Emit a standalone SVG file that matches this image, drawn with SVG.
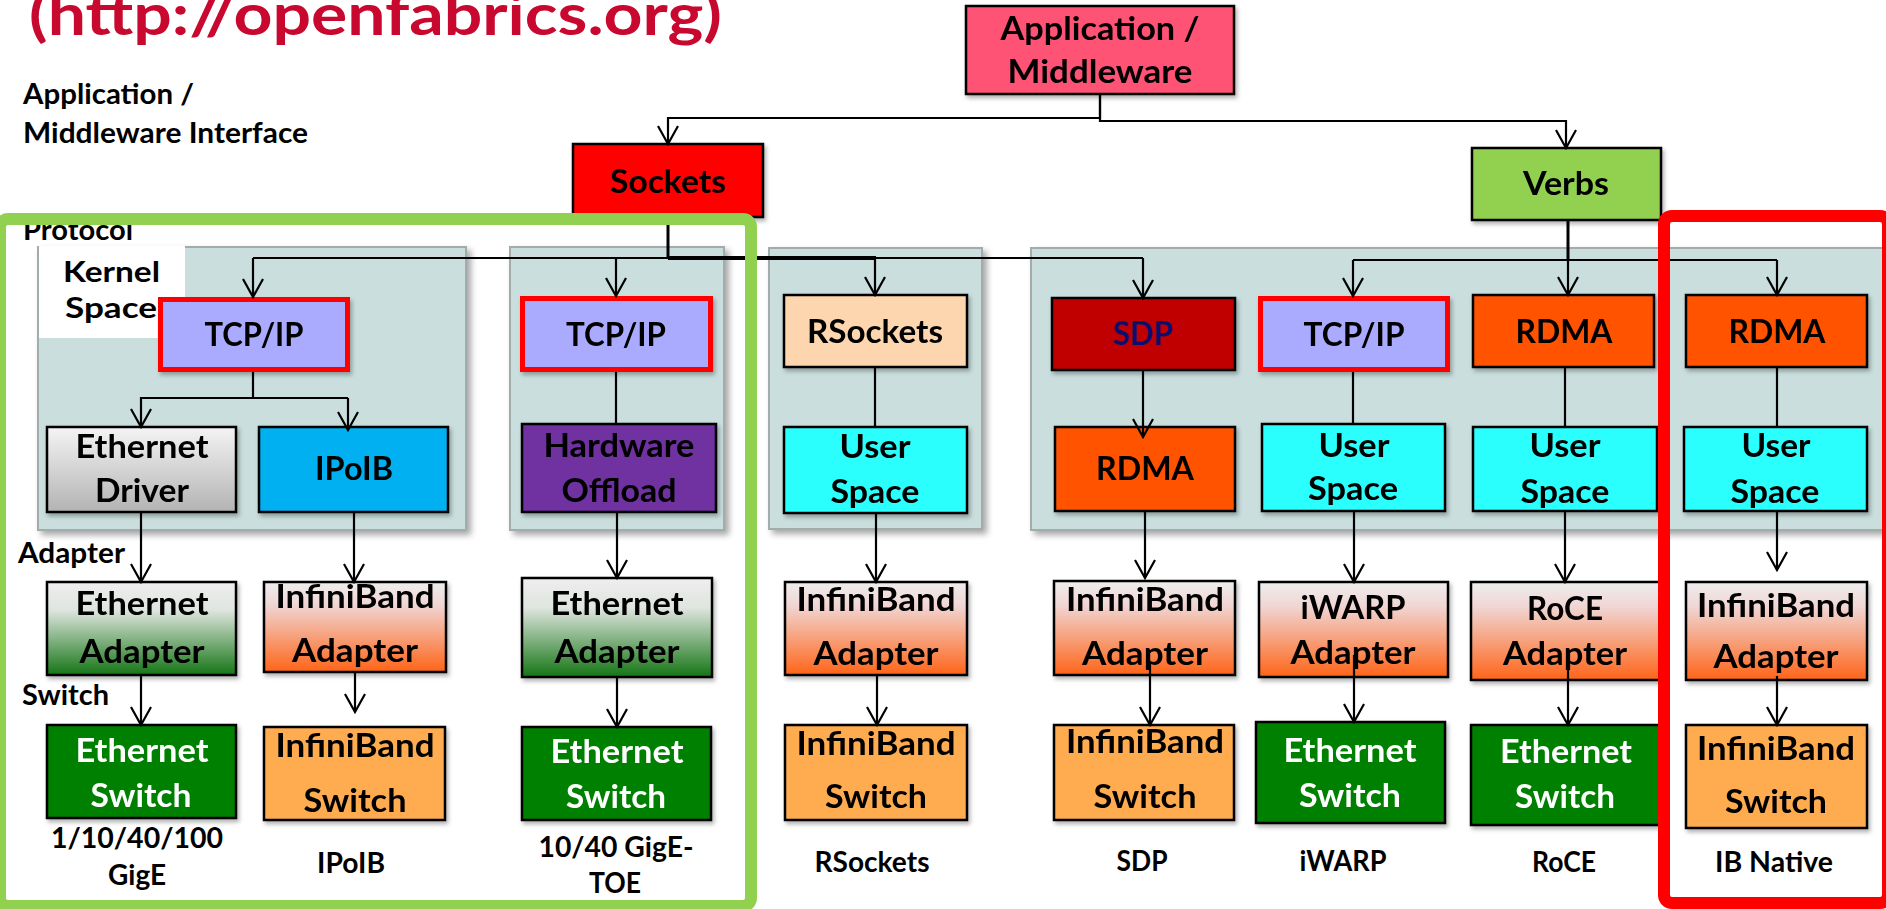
<svg xmlns="http://www.w3.org/2000/svg" width="1886" height="909" viewBox="0 0 1886 909">
  <defs>
    <style>
      .t { font-family: Lato, "Liberation Sans", sans-serif; font-weight: 700; font-size: 32px; text-anchor: middle; fill: #000; }
      .lbl { font-family: Lato, "Liberation Sans", sans-serif; font-weight: 700; font-size: 28px; fill: #000; }
      .mid { text-anchor: middle; }
      .w { fill: #fff; }
      .box { stroke: #000; stroke-width: 2.5; }
      .ip { fill: #aaaaff; stroke: #ff0000; stroke-width: 5; }
      .panel { fill: #c9dedd; stroke: #a3abab; stroke-width: 2; }
      .conn path { fill: none; stroke: #000; stroke-width: 2.2; }
      .conn .arr { marker-end: url(#arrow); }
    </style>
    <marker id="arrow" viewBox="-20 -12 22 24" refX="0" refY="0" markerWidth="22" markerHeight="24" markerUnits="userSpaceOnUse" orient="auto">
      <path d="M -18 -10 L 0 0 L -18 10" fill="none" stroke="#000" stroke-width="2.2"/>
    </marker>
    <filter id="shadow" x="-10%" y="-10%" width="130%" height="130%">
      <feDropShadow dx="2" dy="3" stdDeviation="2" flood-color="#000" flood-opacity="0.3"/>
    </filter>
    <filter id="pshadow" x="-10%" y="-10%" width="130%" height="130%">
      <feDropShadow dx="4" dy="4" stdDeviation="3" flood-color="#000" flood-opacity="0.35"/>
    </filter>
    <linearGradient id="gDriver" x1="0" y1="0" x2="0" y2="1">
      <stop offset="0" stop-color="#f4f4f4"/>
      <stop offset="1" stop-color="#b3b3b3"/>
    </linearGradient>
    <linearGradient id="gEth" x1="0" y1="0" x2="0" y2="1">
      <stop offset="0" stop-color="#eeeeee"/>
      <stop offset="0.3" stop-color="#dfe5df"/>
      <stop offset="1" stop-color="#157515"/>
    </linearGradient>
    <linearGradient id="gIB" x1="0" y1="0" x2="0" y2="1">
      <stop offset="0" stop-color="#eeeeee"/>
      <stop offset="0.25" stop-color="#f0d6d4"/>
      <stop offset="1" stop-color="#ff6418"/>
    </linearGradient>
  </defs>

  <rect width="1886" height="909" fill="#fff"/>

  <!-- heading, running off the top edge -->
  <text x="29" y="35" font-family="Lato, 'Liberation Sans', sans-serif" font-weight="700" font-size="57" fill="#c8082e" textLength="693" lengthAdjust="spacingAndGlyphs">(http://openfabrics.org)</text>

  <!-- layer panels -->
  <g id="panels" filter="url(#pshadow)">
    <rect class="panel" x="38" y="247" width="428" height="283"/>
    <rect class="panel" x="510" y="247" width="214" height="283"/>
    <rect class="panel" x="769" y="248" width="213" height="281"/>
    <rect class="panel" x="1031" y="248" width="870" height="282"/>
  </g>
  <rect x="39" y="246" width="146" height="92" fill="#fff"/>
  <line x1="38" y1="247" x2="38" y2="338" stroke="#a3abab" stroke-width="2"/>

  <!-- side labels -->
  <g id="layer-labels">
    <text class="lbl" x="23" y="104" textLength="171" lengthAdjust="spacingAndGlyphs">Application /</text>
    <text class="lbl" x="23" y="143" textLength="285" lengthAdjust="spacingAndGlyphs">Middleware Interface</text>
    <text class="lbl" x="23" y="240" textLength="110" lengthAdjust="spacingAndGlyphs">Protocol</text>
    <text class="lbl" x="63" y="282" font-size="31" textLength="97" lengthAdjust="spacingAndGlyphs">Kernel</text>
    <text class="lbl" x="65" y="318" font-size="31" textLength="92" lengthAdjust="spacingAndGlyphs">Space</text>
    <text class="lbl" x="18" y="563" textLength="107" lengthAdjust="spacingAndGlyphs">Adapter</text>
    <text class="lbl" x="22" y="705" textLength="87" lengthAdjust="spacingAndGlyphs">Switch</text>
  </g>

  <!-- top level -->
  <g id="app" filter="url(#shadow)">
    <rect class="box" x="966" y="6" width="268" height="88" fill="#ff5274"/>
    <text class="t" x="1100" y="40" textLength="199" lengthAdjust="spacingAndGlyphs">Application /</text>
    <text class="t" x="1100" y="83" textLength="185" lengthAdjust="spacingAndGlyphs">Middleware</text>
  </g>
  <g id="sockets" filter="url(#shadow)">
    <rect class="box" x="573" y="144" width="190" height="73" fill="#ff0000"/>
    <text class="t" x="668" y="193" textLength="116" lengthAdjust="spacingAndGlyphs">Sockets</text>
  </g>
  <g id="verbs" filter="url(#shadow)">
    <rect class="box" x="1472" y="148" width="189" height="72" fill="#92d050"/>
    <text class="t" x="1566" y="195" textLength="86" lengthAdjust="spacingAndGlyphs">Verbs</text>
  </g>

  <!-- protocol row -->
  <g id="tcpip-1" filter="url(#shadow)">
    <rect class="ip" x="160.5" y="299.5" width="187" height="70"/>
    <text class="t" x="254" y="346" textLength="99" lengthAdjust="spacingAndGlyphs">TCP/IP</text>
  </g>
  <g id="tcpip-2" filter="url(#shadow)">
    <rect class="ip" x="522.5" y="298.5" width="188" height="71"/>
    <text class="t" x="616" y="346" textLength="100" lengthAdjust="spacingAndGlyphs">TCP/IP</text>
  </g>
  <g id="rsockets" filter="url(#shadow)">
    <rect class="box" x="784" y="295" width="183" height="72" fill="#fdd5ae"/>
    <text class="t" x="875" y="343" textLength="136" lengthAdjust="spacingAndGlyphs">RSockets</text>
  </g>
  <g id="sdp" filter="url(#shadow)">
    <rect class="box" x="1052" y="298" width="183" height="72" fill="#c00000"/>
    <text class="t" x="1143" y="345" style="fill:#10106e" textLength="60" lengthAdjust="spacingAndGlyphs">SDP</text>
  </g>
  <g id="tcpip-3" filter="url(#shadow)">
    <rect class="ip" x="1260.5" y="298.5" width="187" height="71"/>
    <text class="t" x="1354" y="346" textLength="101" lengthAdjust="spacingAndGlyphs">TCP/IP</text>
  </g>
  <g id="rdma-roce" filter="url(#shadow)">
    <rect class="box" x="1473" y="295" width="181" height="72" fill="#ff5306"/>
    <text class="t" x="1564" y="343" textLength="97" lengthAdjust="spacingAndGlyphs">RDMA</text>
  </g>
  <g id="rdma-ib" filter="url(#shadow)">
    <rect class="box" x="1686" y="295" width="181" height="72" fill="#ff5306"/>
    <text class="t" x="1777" y="343" textLength="97" lengthAdjust="spacingAndGlyphs">RDMA</text>
  </g>

  <!-- driver / user space row -->
  <g id="eth-driver" filter="url(#shadow)">
    <rect class="box" x="47" y="427" width="189" height="85" fill="url(#gDriver)"/>
    <text class="t" x="142" y="458" textLength="133" lengthAdjust="spacingAndGlyphs">Ethernet</text>
    <text class="t" x="142" y="502" textLength="94" lengthAdjust="spacingAndGlyphs">Driver</text>
  </g>
  <g id="ipoib" filter="url(#shadow)">
    <rect class="box" x="259" y="427" width="189" height="85" fill="#00b0f0"/>
    <text class="t" x="354" y="480" textLength="78" lengthAdjust="spacingAndGlyphs">IPoIB</text>
  </g>
  <g id="hw-offload" filter="url(#shadow)">
    <rect class="box" x="522" y="424" width="194" height="88" fill="#7030a0"/>
    <text class="t" x="619" y="457" textLength="151" lengthAdjust="spacingAndGlyphs">Hardware</text>
    <text class="t" x="619" y="502" textLength="115" lengthAdjust="spacingAndGlyphs">Offload</text>
  </g>
  <g id="user-1" filter="url(#shadow)">
    <rect class="box" x="784" y="427" width="183" height="86" fill="#2bfffe"/>
    <text class="t" x="875" y="458" textLength="71" lengthAdjust="spacingAndGlyphs">User</text>
    <text class="t" x="875" y="503" textLength="89" lengthAdjust="spacingAndGlyphs">Space</text>
  </g>
  <g id="rdma-sdp" filter="url(#shadow)">
    <rect class="box" x="1055" y="427" width="180" height="84" fill="#ff5306"/>
    <text class="t" x="1145" y="480" textLength="98" lengthAdjust="spacingAndGlyphs">RDMA</text>
  </g>
  <g id="user-2" filter="url(#shadow)">
    <rect class="box" x="1262" y="424" width="183" height="87" fill="#2bfffe"/>
    <text class="t" x="1354" y="457" textLength="71" lengthAdjust="spacingAndGlyphs">User</text>
    <text class="t" x="1353" y="500" textLength="90" lengthAdjust="spacingAndGlyphs">Space</text>
  </g>
  <g id="user-3" filter="url(#shadow)">
    <rect class="box" x="1473" y="427" width="184" height="84" fill="#2bfffe"/>
    <text class="t" x="1565" y="457" textLength="71" lengthAdjust="spacingAndGlyphs">User</text>
    <text class="t" x="1565" y="503" textLength="89" lengthAdjust="spacingAndGlyphs">Space</text>
  </g>
  <g id="user-4" filter="url(#shadow)">
    <rect class="box" x="1684" y="427" width="183" height="84" fill="#2bfffe"/>
    <text class="t" x="1776" y="457" textLength="69" lengthAdjust="spacingAndGlyphs">User</text>
    <text class="t" x="1775" y="503" textLength="89" lengthAdjust="spacingAndGlyphs">Space</text>
  </g>

  <!-- adapter row -->
  <g id="eth-adapter-1" filter="url(#shadow)">
    <rect class="box" x="47" y="582" width="189" height="93" fill="url(#gEth)"/>
    <text class="t" x="142" y="615" textLength="133" lengthAdjust="spacingAndGlyphs">Ethernet</text>
    <text class="t" x="142" y="663" textLength="125" lengthAdjust="spacingAndGlyphs">Adapter</text>
  </g>
  <g id="ib-adapter-1" filter="url(#shadow)">
    <rect class="box" x="264" y="582" width="182" height="90" fill="url(#gIB)"/>
    <text class="t" x="355" y="608" textLength="159" lengthAdjust="spacingAndGlyphs">InfiniBand</text>
    <text class="t" x="355" y="662" textLength="126" lengthAdjust="spacingAndGlyphs">Adapter</text>
  </g>
  <g id="eth-adapter-2" filter="url(#shadow)">
    <rect class="box" x="522" y="578" width="190" height="99" fill="url(#gEth)"/>
    <text class="t" x="617" y="615" textLength="133" lengthAdjust="spacingAndGlyphs">Ethernet</text>
    <text class="t" x="617" y="663" textLength="125" lengthAdjust="spacingAndGlyphs">Adapter</text>
  </g>
  <g id="ib-adapter-2" filter="url(#shadow)">
    <rect class="box" x="785" y="582" width="182" height="93" fill="url(#gIB)"/>
    <text class="t" x="876" y="611" textLength="159" lengthAdjust="spacingAndGlyphs">InfiniBand</text>
    <text class="t" x="876" y="665" textLength="125" lengthAdjust="spacingAndGlyphs">Adapter</text>
  </g>
  <g id="ib-adapter-3" filter="url(#shadow)">
    <rect class="box" x="1054" y="581" width="181" height="94" fill="url(#gIB)"/>
    <text class="t" x="1145" y="611" textLength="158" lengthAdjust="spacingAndGlyphs">InfiniBand</text>
    <text class="t" x="1145" y="665" textLength="126" lengthAdjust="spacingAndGlyphs">Adapter</text>
  </g>
  <g id="iwarp-adapter" filter="url(#shadow)">
    <rect class="box" x="1259" y="582" width="189" height="95" fill="url(#gIB)"/>
    <text class="t" x="1353" y="619" textLength="105" lengthAdjust="spacingAndGlyphs">iWARP</text>
    <text class="t" x="1353" y="664" textLength="125" lengthAdjust="spacingAndGlyphs">Adapter</text>
  </g>
  <g id="roce-adapter" filter="url(#shadow)">
    <rect class="box" x="1471" y="582" width="189" height="98" fill="url(#gIB)"/>
    <text class="t" x="1565" y="620" textLength="76" lengthAdjust="spacingAndGlyphs">RoCE</text>
    <text class="t" x="1565" y="665" textLength="124" lengthAdjust="spacingAndGlyphs">Adapter</text>
  </g>
  <g id="ib-adapter-4" filter="url(#shadow)">
    <rect class="box" x="1686" y="582" width="181" height="98" fill="url(#gIB)"/>
    <text class="t" x="1776" y="617" textLength="158" lengthAdjust="spacingAndGlyphs">InfiniBand</text>
    <text class="t" x="1776" y="668" textLength="125" lengthAdjust="spacingAndGlyphs">Adapter</text>
  </g>

  <!-- switch row -->
  <g id="eth-switch-1" filter="url(#shadow)">
    <rect class="box" x="47" y="725" width="189" height="93" fill="#008000"/>
    <text class="t w" x="142" y="762" textLength="133" lengthAdjust="spacingAndGlyphs">Ethernet</text>
    <text class="t w" x="141" y="807" textLength="101" lengthAdjust="spacingAndGlyphs">Switch</text>
  </g>
  <g id="ib-switch-1" filter="url(#shadow)">
    <rect class="box" x="264" y="727" width="181" height="93" fill="#ffab50"/>
    <text class="t" x="355" y="757" textLength="159" lengthAdjust="spacingAndGlyphs">InfiniBand</text>
    <text class="t" x="355" y="812" textLength="103" lengthAdjust="spacingAndGlyphs">Switch</text>
  </g>
  <g id="eth-switch-2" filter="url(#shadow)">
    <rect class="box" x="522" y="727" width="189" height="93" fill="#008000"/>
    <text class="t w" x="617" y="763" textLength="133" lengthAdjust="spacingAndGlyphs">Ethernet</text>
    <text class="t w" x="616" y="808" textLength="100" lengthAdjust="spacingAndGlyphs">Switch</text>
  </g>
  <g id="ib-switch-2" filter="url(#shadow)">
    <rect class="box" x="785" y="725" width="182" height="95" fill="#ffab50"/>
    <text class="t" x="876" y="755" textLength="159" lengthAdjust="spacingAndGlyphs">InfiniBand</text>
    <text class="t" x="876" y="808" textLength="102" lengthAdjust="spacingAndGlyphs">Switch</text>
  </g>
  <g id="ib-switch-3" filter="url(#shadow)">
    <rect class="box" x="1054" y="725" width="180" height="95" fill="#ffab50"/>
    <text class="t" x="1145" y="753" textLength="158" lengthAdjust="spacingAndGlyphs">InfiniBand</text>
    <text class="t" x="1145" y="808" textLength="103" lengthAdjust="spacingAndGlyphs">Switch</text>
  </g>
  <g id="eth-switch-3" filter="url(#shadow)">
    <rect class="box" x="1256" y="722" width="189" height="101" fill="#008000"/>
    <text class="t w" x="1350" y="762" textLength="133" lengthAdjust="spacingAndGlyphs">Ethernet</text>
    <text class="t w" x="1350" y="807" textLength="102" lengthAdjust="spacingAndGlyphs">Switch</text>
  </g>
  <g id="eth-switch-4" filter="url(#shadow)">
    <rect class="box" x="1471" y="725" width="189" height="100" fill="#008000"/>
    <text class="t w" x="1566" y="763" textLength="132" lengthAdjust="spacingAndGlyphs">Ethernet</text>
    <text class="t w" x="1565" y="808" textLength="100" lengthAdjust="spacingAndGlyphs">Switch</text>
  </g>
  <g id="ib-switch-4" filter="url(#shadow)">
    <rect class="box" x="1686" y="725" width="181" height="103" fill="#ffab50"/>
    <text class="t" x="1776" y="760" textLength="158" lengthAdjust="spacingAndGlyphs">InfiniBand</text>
    <text class="t" x="1776" y="813" textLength="102" lengthAdjust="spacingAndGlyphs">Switch</text>
  </g>

  <!-- stack names -->
  <g id="stack-names">
    <text class="lbl mid" x="137" y="848" textLength="172" lengthAdjust="spacingAndGlyphs">1/10/40/100</text>
    <text class="lbl mid" x="137" y="885" textLength="58" lengthAdjust="spacingAndGlyphs">GigE</text>
    <text class="lbl mid" x="351" y="873" textLength="68" lengthAdjust="spacingAndGlyphs">IPoIB</text>
    <text class="lbl mid" x="616" y="857" textLength="155" lengthAdjust="spacingAndGlyphs">10/40 GigE-</text>
    <text class="lbl mid" x="615" y="893" textLength="52" lengthAdjust="spacingAndGlyphs">TOE</text>
    <text class="lbl mid" x="872" y="872" textLength="115" lengthAdjust="spacingAndGlyphs">RSockets</text>
    <text class="lbl mid" x="1142" y="871" textLength="51" lengthAdjust="spacingAndGlyphs">SDP</text>
    <text class="lbl mid" x="1343" y="871" textLength="87" lengthAdjust="spacingAndGlyphs">iWARP</text>
    <text class="lbl mid" x="1564" y="872" textLength="64" lengthAdjust="spacingAndGlyphs">RoCE</text>
    <text class="lbl mid" x="1774" y="872" textLength="118" lengthAdjust="spacingAndGlyphs">IB Native</text>
  </g>

  <!-- connectors -->
  <g id="connectors" class="conn">
    <path class="arr" d="M1100 94 V118 H668 V144"/>
    <path class="arr" d="M1100 94 V121 H1566 V148"/>
    <path d="M668 217 V258" style="stroke-width:3"/>
    <path d="M253 258 H1143"/>
    <path d="M668 258 H876" style="stroke-width:4"/>
    <path class="arr" d="M253 258 V297"/>
    <path class="arr" d="M616 258 V296"/>
    <path class="arr" d="M875 258 V295"/>
    <path class="arr" d="M1143 258 V298"/>
    <path d="M253 372 V398 H348"/>
    <path class="arr" d="M253 398 H141 V427"/>
    <path class="arr" d="M348 398 V430"/>
    <path d="M616 372 V424"/>
    <path class="arr" d="M141 512 V582"/>
    <path class="arr" d="M354 512 V582"/>
    <path class="arr" d="M617 512 V578"/>
    <path class="arr" d="M141 675 V725"/>
    <path class="arr" d="M355 672 V712"/>
    <path class="arr" d="M617 677 V727"/>
    <path d="M875 367 V427"/>
    <path class="arr" d="M876 513 V582"/>
    <path class="arr" d="M877 675 V725"/>
    <path class="arr" d="M1143 370 V437"/>
    <path class="arr" d="M1145 511 V578"/>
    <path class="arr" d="M1150 663 V725"/>
    <path d="M1568 220 V260" style="stroke-width:3"/>
    <path d="M1353 260 H1777"/>
    <path class="arr" d="M1353 260 V296"/>
    <path class="arr" d="M1568 260 V295"/>
    <path class="arr" d="M1777 260 V295"/>
    <path d="M1353 372 V424"/>
    <path class="arr" d="M1354 511 V582"/>
    <path class="arr" d="M1354 655 V722"/>
    <path d="M1565 367 V427"/>
    <path class="arr" d="M1565 511 V582"/>
    <path class="arr" d="M1568 668 V725"/>
    <path d="M1777 367 V427"/>
    <path class="arr" d="M1777 511 V570"/>
    <path class="arr" d="M1777 676 V725"/>
  </g>

  <!-- highlight frames -->
  <rect id="sockets-frame" x="0" y="219" width="751" height="687" rx="8" fill="none" stroke="#92d050" stroke-width="12"/>
  <rect id="ib-native-frame" x="1664" y="216" width="224" height="687" rx="8" fill="none" stroke="#ff0000" stroke-width="12"/>
</svg>
